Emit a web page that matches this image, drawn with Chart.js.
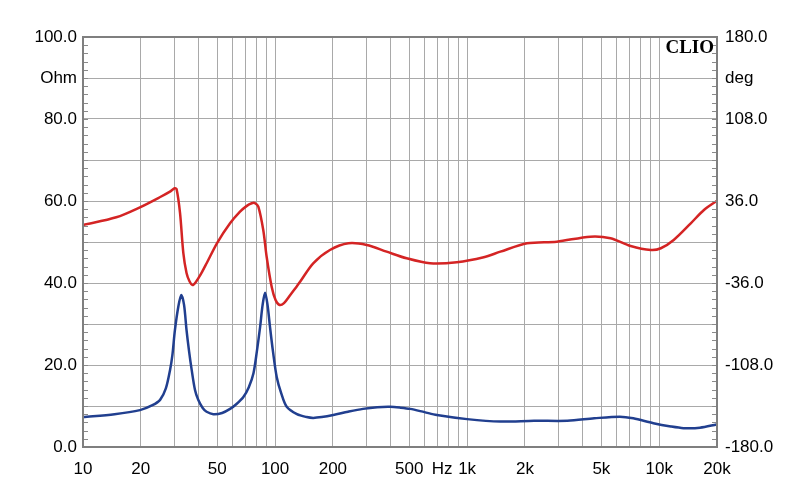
<!DOCTYPE html>
<html>
<head>
<meta charset="utf-8">
<script src="https://cdn.jsdelivr.net/npm/chart.js@4.4.1/dist/chart.umd.min.js"></script>
<style>
  html, body { margin: 0; padding: 0; background: #ffffff; }
  #wrap { width: 800px; height: 504px; position: relative; }
</style>
</head>
<body>
<div id="wrap"><canvas id="c" width="800" height="504"></canvas></div>
<script>
// ---- Data ----
// Impedance magnitude (Ohm, left axis)
const FREQ_IMP = [10, 14.6, 19.8, 23, 25.2, 27, 28.4, 29.2, 30.1, 31.4, 32.5, 33.6, 34.6, 35.7, 36.8, 38.3, 39.8, 42, 44, 47.7, 53, 58.3, 63, 68.4, 73, 77.2, 80.6, 83.6, 86.1, 88.7, 91.4, 94.1, 97.6, 102, 107.5, 115, 130, 146, 158, 175, 201, 240, 287, 340, 398, 450, 505, 600, 696, 1000, 1490, 2230, 3330, 4590, 6240, 7330, 9330, 11500, 13400, 16300, 19900];
const IMPEDANCE = [7.3, 8.0, 9.0, 10.2, 11.5, 14.3, 18.8, 22.4, 28.5, 34.4, 37.1, 34.6, 28.5, 23.2, 18.8, 13.9, 11.5, 9.5, 8.6, 8.0, 8.3, 9.3, 10.5, 12.2, 14.6, 18.0, 23.7, 29.3, 34.6, 37.6, 34.6, 29.3, 23.2, 17.1, 13.2, 9.8, 8.0, 7.3, 7.1, 7.3, 7.8, 8.6, 9.3, 9.7, 9.8, 9.6, 9.3, 8.5, 7.8, 6.8, 6.2, 6.4, 6.4, 7.0, 7.4, 7.0, 5.8, 5.0, 4.6, 4.7, 5.5];

// Impedance phase (degrees, right axis)
const FREQ_PHASE = [10, 14.9, 19.8, 25.1, 28.5, 30.0, 30.7, 32.0, 33.3, 34.6, 35.8, 37.2, 38.7, 41, 44.1, 49.9, 58.3, 65.7, 71, 75.6, 78.5, 81.8, 86.8, 90.4, 96.0, 100.6, 105.5, 111.3, 120, 129.4, 135, 158, 193, 241, 300, 381, 484, 641, 884, 1220, 1490, 2050, 2930, 4380, 5580, 7100, 9050, 10200, 11900, 14600, 17100, 20000];
const PHASE = [14.9, 21.7, 30.5, 39.3, 44.5, 47.2, 46.5, 25.5, -9.7, -27.2, -34.2, -37.8, -35.1, -28.5, -18.4, -0.9, 16.4, 26.6, 31.5, 34.0, 34.2, 31.0, 10.5, -12.9, -39.2, -50.9, -55.3, -53.6, -46.5, -39.2, -34.9, -18.7, -7.0, -1.1, -2.6, -8.5, -14.3, -18.7, -17.8, -13.4, -8.5, -1.1, 0.3, 4.7, 3.3, -3.5, -7.0, -5.5, 1.8, 16.4, 28.1, 36.3];

// Tick labels
const X_LABELED = [10, 20, 50, 100, 200, 500, 741, 1000, 2000, 5000, 10000, 20000];
const X_LABEL_TEXT = ['10', '20', '50', '100', '200', '500', 'Hz', '1k', '2k', '5k', '10k', '20k'];
const HZ_POS = 741;
const Y_LEFT_LABELED = [0, 20, 40, 60, 80, 90, 100];
const Y_LEFT_TEXT = ['0.0', '20.0', '40.0', '60.0', '80.0', 'Ohm', '100.0'];
const Y_RIGHT_LABELED = [-180, -108, -36, 36, 108, 144, 180];
const Y_RIGHT_TEXT = ['-180.0', '-108.0', '-36.0', '36.0', '108.0', 'deg', '180.0'];

// ---- Build x grid ticks (1..9 per decade) ----
const X_TICKS = [];
for (let d = 10; d <= 10000; d *= 10) {
  for (let m = 1; m <= 9; m++) {
    const v = d * m;
    if (v <= 20000) X_TICKS.push(v);
  }
}
X_TICKS.push(HZ_POS);
X_TICKS.sort((a, b) => a - b);

const FONT = { family: "'Liberation Sans', Arial, sans-serif", size: 17 };
const GRID = '#a9a9a9';
const FRAME = '#7f7f7f';

const framePlugin = {
  id: 'frame',
  afterDatasetsDraw(chart) {
    const { ctx, chartArea: a, scales } = chart;
    ctx.save();
    // minor ticks every 2 Ohm at left and right edges
    ctx.strokeStyle = '#8a8a8a';
    ctx.lineWidth = 1;
    for (let v = 0; v <= 100; v += 2) {
      const y = Math.round(scales.y.getPixelForValue(v)) + 0.5;
      ctx.beginPath();
      ctx.moveTo(a.left, y); ctx.lineTo(a.left + 5, y);
      ctx.moveTo(a.right - 5, y); ctx.lineTo(a.right, y);
      ctx.stroke();
    }
    // frame
    ctx.strokeStyle = FRAME;
    ctx.lineWidth = 2;
    ctx.strokeRect(a.left, a.top, a.right - a.left, a.bottom - a.top);
    // CLIO mark
    ctx.fillStyle = '#000000';
    ctx.font = "bold 19px 'Liberation Serif', 'Times New Roman', serif";
    ctx.textAlign = 'right';
    ctx.textBaseline = 'alphabetic';
    ctx.fillText('CLIO', a.right - 3, a.top + 16);
    ctx.restore();
  }
};

new Chart(document.getElementById('c'), {
  type: 'line',
  data: {
    datasets: [
      {
        label: 'Impedance',
        data: FREQ_IMP.map((f, i) => ({ x: f, y: IMPEDANCE[i] })),
        borderColor: '#213f8f',
        borderWidth: 2.5,
        pointRadius: 0,
        tension: 0.3,
        yAxisID: 'y'
      },
      {
        label: 'Phase',
        data: FREQ_PHASE.map((f, i) => ({ x: f, y: PHASE[i] })),
        borderColor: '#d42424',
        borderWidth: 2.5,
        pointRadius: 0,
        tension: 0.3,
        yAxisID: 'y2'
      }
    ]
  },
  options: {
    responsive: false,
    animation: false,
    devicePixelRatio: 1,
    layout: { padding: { top: 37, left: 0, right: 0, bottom: 0 } },
    plugins: { legend: { display: false }, tooltip: { enabled: false } },
    scales: {
      x: {
        type: 'logarithmic',
        min: 10,
        max: 20000,
        afterBuildTicks(scale) { scale.ticks = X_TICKS.map(v => ({ value: v })); },
        afterFit(scale) { scale.height = 57; },
        grid: {
          color: (ctx) => (ctx.tick && ctx.tick.value === HZ_POS) ? 'rgba(0,0,0,0)' : GRID,
          lineWidth: 1,
          drawTicks: false
        },
        border: { display: false },
        ticks: {
          autoSkip: false,
          maxRotation: 0,
          padding: 12,
          color: '#000000',
          font: FONT,
          callback(value) {
            const i = X_LABELED.indexOf(value);
            return i >= 0 ? X_LABEL_TEXT[i] : '';
          }
        }
      },
      y: {
        type: 'linear',
        position: 'left',
        min: 0,
        max: 100,
        afterFit(scale) { scale.width = 83; },
        grid: { color: GRID, lineWidth: 1, drawTicks: false },
        border: { display: false },
        ticks: {
          stepSize: 10,
          autoSkip: false,
          padding: 6,
          color: '#000000',
          font: FONT,
          callback(value) {
            const i = Y_LEFT_LABELED.indexOf(value);
            return i >= 0 ? Y_LEFT_TEXT[i] : '';
          }
        }
      },
      y2: {
        type: 'linear',
        position: 'right',
        min: -180,
        max: 180,
        afterFit(scale) { scale.width = 83; },
        grid: { drawOnChartArea: false, drawTicks: false },
        border: { display: false },
        ticks: {
          stepSize: 36,
          autoSkip: false,
          padding: 8,
          color: '#000000',
          font: FONT,
          callback(value) {
            const i = Y_RIGHT_LABELED.indexOf(value);
            return i >= 0 ? Y_RIGHT_TEXT[i] : '';
          }
        }
      }
    }
  },
  plugins: [framePlugin]
});
</script>
</body>
</html>
